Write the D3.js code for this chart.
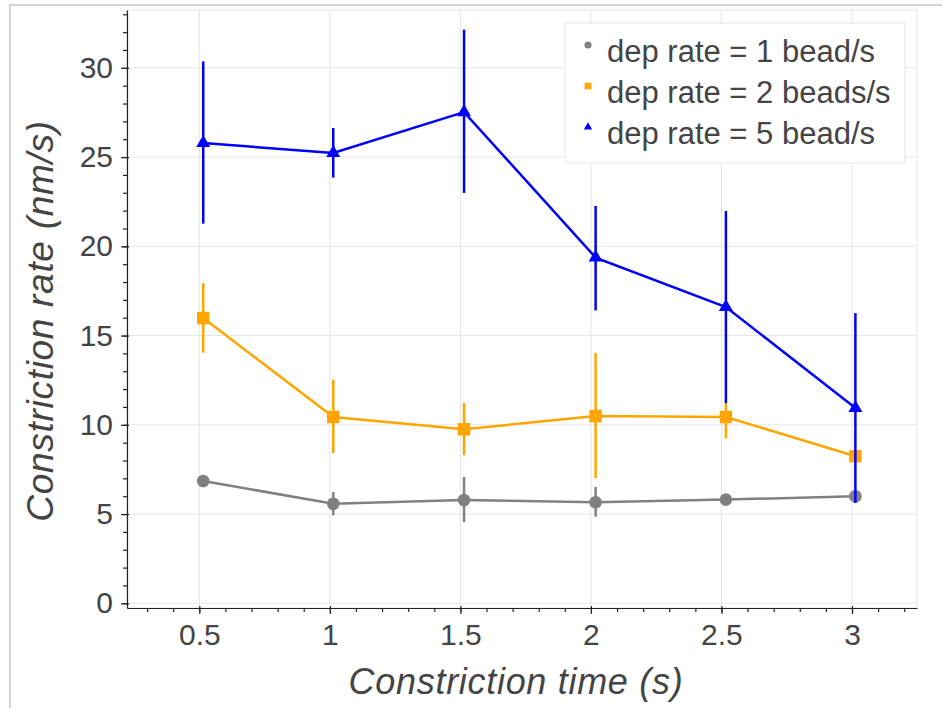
<!DOCTYPE html>
<html>
<head>
<meta charset="utf-8">
<script src="https://cdn.jsdelivr.net/npm/d3@7"></script>
<style>
  body { margin: 0; background: #fff; }
  text { font-family: "Liberation Sans", Arial, Helvetica, sans-serif; }
</style>
</head>
<body>
<div id="chart"></div>
<script>
/* ---------------- DATA ---------------- */
const timeS  = [0.515, 1.013, 1.514, 2.018, 2.517, 3.013];

const rate1  = [6.85, 5.58, 5.79, 5.66, 5.81, 6.0];
const lo1    = [6.7,  4.93, 4.55, 4.85, 5.7,  5.9];
const hi1    = [7.0,  6.24, 7.08, 6.52, 5.9,  6.1];

const rate2  = [15.98, 10.44, 9.75, 10.49, 10.44, 8.24];
const lo2    = [14.04, 8.42,  8.29, 7.02,  9.23,  8.1];
const hi2    = [17.94, 12.53, 11.22, 14.02, 11.25, 8.4];

const rate5  = [25.79, 25.23, 27.52, 19.37, 16.6, 10.94];
const lo5    = [21.27, 23.85, 22.99, 16.41, 11.22, 5.62];
const hi5    = [30.36, 26.63, 32.14, 22.26, 21.98, 16.26];

const seriesNames = ["dep rate = 1 bead/s", "dep rate = 2 beads/s", "dep rate = 5 bead/s"];
const xTicks = [0.5, 1, 1.5, 2, 2.5, 3];
const yTicks = [0, 5, 10, 15, 20, 25, 30];
const xLabel = "Constriction time (s)";
const yLabel = "Constriction rate (nm/s)";

/* ---------------- STYLE ---------------- */
const W = 942, H = 708;
const FRAME = {left: 127, right: 917, top: 10, bottom: 608};
const INK = "#444";
const GRID = "#e5e5e5";
const STYLES = [
  {color: "#808080", shape: d3.symbolCircle,   size: 125, lsize: 40},
  {color: "#FFA500", shape: d3.symbolSquare,   size: 155, lsize: 45},
  {color: "#0000FF", shape: d3.symbolTriangle, size: 85,  lsize: 30}
];

const series = [
  {name: seriesNames[0], v: rate1, lo: lo1, hi: hi1},
  {name: seriesNames[1], v: rate2, lo: lo2, hi: hi2},
  {name: seriesNames[2], v: rate5, lo: lo5, hi: hi5}
].map((s, i) => ({...s, ...STYLES[i],
  pts: timeS.map((t, j) => ({t, v: s.v[j], lo: s.lo[j], hi: s.hi[j]}))}));

const svg = d3.select("#chart").append("svg")
  .attr("width", W).attr("height", H);

// card border
svg.append("path")
  .attr("d", `M10,${H} L10,5 L${W},5`)
  .attr("fill", "none").attr("stroke", "#d4d4d4").attr("stroke-width", 2);

const x = d3.scaleLinear().domain([0.223, 3.249]).range([FRAME.left, FRAME.right]);
const y = d3.scaleLinear().domain([-0.263, 33.24]).range([FRAME.bottom, FRAME.top]);

/* grid + outline */
const grid = svg.append("g");
grid.selectAll("line.gx").data(xTicks).join("line")
  .attr("x1", d => x(d)).attr("x2", d => x(d))
  .attr("y1", FRAME.top).attr("y2", FRAME.bottom)
  .attr("stroke", GRID);
grid.selectAll("line.gy").data(yTicks).join("line")
  .attr("y1", d => y(d)).attr("y2", d => y(d))
  .attr("x1", FRAME.left).attr("x2", FRAME.right)
  .attr("stroke", GRID);
svg.append("rect")
  .attr("x", FRAME.left).attr("y", FRAME.top)
  .attr("width", FRAME.right - FRAME.left).attr("height", FRAME.bottom - FRAME.top)
  .attr("fill", "none").attr("stroke", GRID);

/* series: error bars, line, markers */
const line = d3.line().x(d => x(d.t)).y(d => y(d.v));
series.forEach(s => {
  const g = svg.append("g");
  g.append("path").attr("d", line(s.pts))
    .attr("fill", "none").attr("stroke", s.color).attr("stroke-width", 2.5);
  g.selectAll("line.err").data(s.pts).join("line")
    .attr("x1", d => x(d.t)).attr("x2", d => x(d.t))
    .attr("y1", d => y(d.lo)).attr("y2", d => y(d.hi))
    .attr("stroke", s.color).attr("stroke-width", 2.5);
  g.selectAll("path.mk").data(s.pts).join("path")
    .attr("transform", d => `translate(${x(d.t)},${y(d.v)})`)
    .attr("d", d3.symbol(s.shape, s.size))
    .attr("fill", s.color);
});

/* axes */
const fmt = d3.format("~g");
const xAxis = svg.append("g").attr("transform", `translate(0,${FRAME.bottom})`)
  .call(d3.axisBottom(x).tickValues(xTicks).tickFormat(fmt)
    .tickSizeInner(6).tickSizeOuter(0).tickPadding(10));
svg.append("g").attr("transform", `translate(0,${FRAME.bottom})`)
  .call(d3.axisBottom(x).tickValues(d3.range(3, 33).map(i => i / 10))
    .tickSize(4).tickFormat(""))
  .call(g => g.select(".domain").remove());
xAxis.selectAll(".tick line").attr("y1", -2);

const yAxis = svg.append("g").attr("transform", `translate(${FRAME.left},0)`)
  .call(d3.axisLeft(y).tickValues(yTicks)
    .tickSizeInner(6).tickSizeOuter(0).tickPadding(8));
svg.append("g").attr("transform", `translate(${FRAME.left},0)`)
  .call(d3.axisLeft(y).tickValues(d3.range(0, 34)).tickSize(4).tickFormat(""))
  .call(g => g.select(".domain").remove());
yAxis.selectAll(".tick line").attr("x1", 2);

svg.selectAll(".tick line, .domain").attr("stroke", "#222").attr("stroke-width", 1.2);
[xAxis, yAxis].forEach(a => a.attr("font-family", null).attr("font-size", null)
  .selectAll("text").attr("fill", INK).style("font-size", "30px"));

/* axis labels */
svg.append("text")
  .attr("x", 516).attr("y", 694)
  .attr("text-anchor", "middle")
  .style("font-size", "36px").style("font-style", "italic").style("letter-spacing", "0.7px")
  .attr("fill", INK).text(xLabel);
svg.append("text")
  .attr("transform", `translate(53,${(FRAME.top + FRAME.bottom) / 2 + 12}) rotate(-90)`)
  .attr("text-anchor", "middle")
  .style("font-size", "37px").style("font-style", "italic").style("letter-spacing", "0.7px")
  .attr("fill", INK).text(yLabel);

/* legend */
const leg = svg.append("g");
leg.append("rect")
  .attr("x", 565).attr("y", 23).attr("width", 340).attr("height", 140)
  .attr("fill", "#fff").attr("fill-opacity", 0.95).attr("stroke", GRID);
const items = leg.selectAll("g.item").data(series).join("g")
  .attr("transform", (d, i) => `translate(0,${45 + i * 41})`);
items.append("path")
  .attr("transform", "translate(588,0)")
  .attr("d", d => d3.symbol(d.shape, d.lsize)())
  .attr("fill", d => d.color);
items.append("text")
  .attr("x", 607).attr("y", 17)
  .style("font-size", "31px").attr("fill", INK)
  .text(d => d.name);
</script>
</body>
</html>
